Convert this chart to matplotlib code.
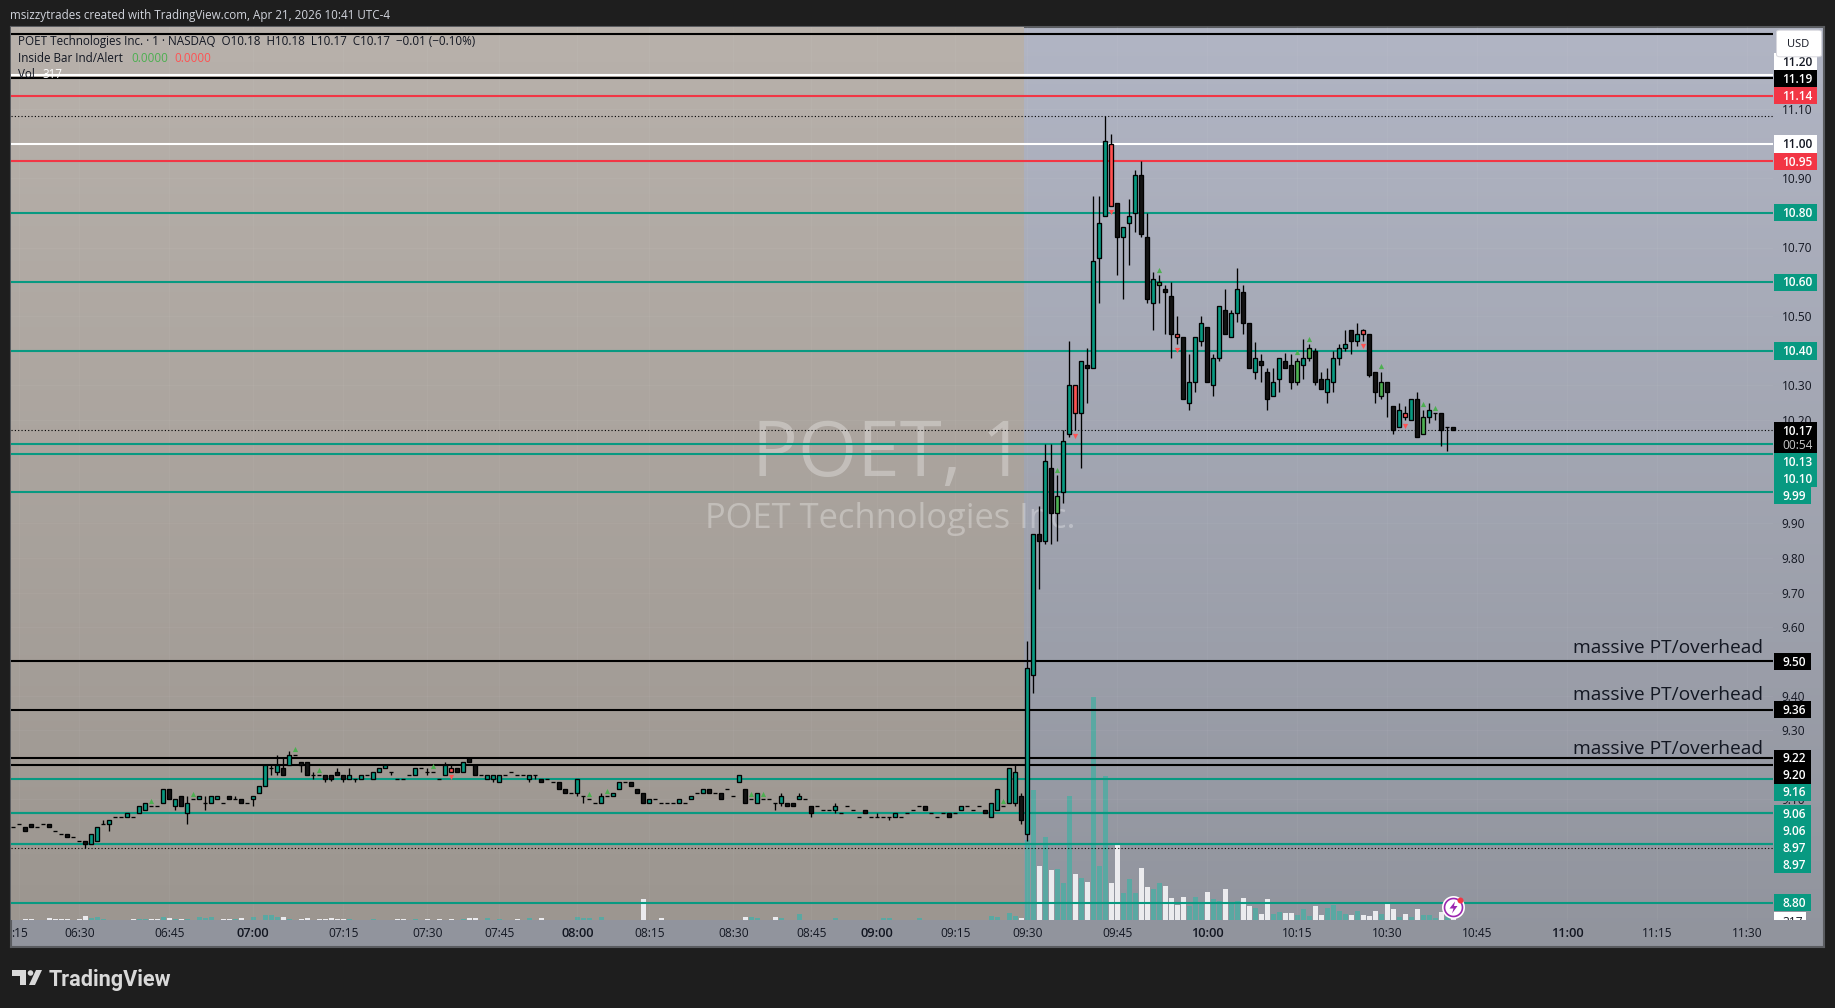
import numpy as np
import matplotlib
matplotlib.use("Agg")
import matplotlib.pyplot as plt
from matplotlib.patches import Rectangle, Polygon, FancyBboxPatch
from matplotlib.transforms import Bbox

plt.rcParams.update({'font.family': ['Open Sans', 'DejaVu Sans']})

# one minute bars, oldest first
opens = [
  9.02,9.03,9.02,9.03,9.02,9.03,9.03,9.01,9.00,9.00,
  8.99,8.98,8.98,8.97,8.98,9.03,9.03,9.05,9.05,9.05,
  9.05,9.06,9.07,9.08,9.08,9.09,9.13,9.08,9.11,9.06,
  9.10,9.10,9.09,9.09,9.10,9.09,9.11,9.10,9.10,9.09,
  9.10,9.12,9.14,9.19,9.18,9.19,9.20,9.23,9.21,9.21,
  9.17,9.17,9.17,9.17,9.18,9.17,9.16,9.16,9.16,9.17,
  9.16,9.18,9.19,9.18,9.16,9.16,9.17,9.17,9.19,9.18,
  9.18,9.16,9.17,9.19,9.19,9.18,9.22,9.20,9.17,9.16,
  9.16,9.15,9.17,9.18,9.17,9.17,9.16,9.17,9.16,9.16,
  9.15,9.15,9.13,9.12,9.12,9.11,9.10,9.09,9.09,9.11,
  9.11,9.13,9.15,9.15,9.13,9.12,9.09,9.10,9.09,9.09,
  9.09,9.09,9.09,9.10,9.12,9.12,9.13,9.12,9.12,9.13,
  9.11,9.15,9.13,9.10,9.09,9.10,9.10,9.09,9.09,9.09,
  9.09,9.10,9.10,9.08,9.08,9.07,9.07,9.07,9.06,9.08,
  9.07,9.05,9.07,9.05,9.05,9.05,9.05,9.05,9.05,9.06,
  9.07,9.08,9.08,9.06,9.05,9.06,9.06,9.06,9.07,9.08,
  9.07,9.08,9.07,9.05,9.07,9.08,9.09,9.09,9.11,
  9.00,9.46,9.87,9.85,10.06,9.93,9.99,10.16,10.30,10.22,
  10.36,10.35,10.67,10.79,11.00,10.83,10.73,10.77,10.80,10.91,
  10.73,10.54,10.59,10.58,10.56,10.45,10.44,10.25,10.31,10.43,
  10.47,10.30,10.38,10.52,10.44,10.51,10.57,10.48,10.34,10.37,
  10.34,10.27,10.32,10.37,10.36,10.31,10.36,10.38,10.40,10.32,
  10.28,10.31,10.38,10.41,10.46,10.43,10.46,10.45,10.34,10.27,
  10.31,10.24,10.18,10.22,10.20,10.26,10.16,10.21,10.22,10.22,10.18,10.18]
closes = [
  9.02,9.03,9.01,9.02,9.02,9.03,9.02,9.01,9.00,8.99,
  8.99,8.98,8.97,9.00,9.02,9.03,9.04,9.05,9.05,9.06,
  9.05,9.08,9.09,9.08,9.08,9.13,9.10,9.10,9.08,9.09,
  9.10,9.11,9.09,9.11,9.11,9.09,9.10,9.10,9.09,9.09,
  9.11,9.14,9.20,9.19,9.20,9.17,9.23,9.23,9.20,9.17,
  9.17,9.17,9.16,9.16,9.17,9.16,9.17,9.16,9.17,9.17,
  9.18,9.19,9.20,9.18,9.16,9.16,9.17,9.19,9.19,9.18,
  9.18,9.16,9.20,9.18,9.18,9.21,9.21,9.17,9.17,9.17,
  9.17,9.17,9.17,9.18,9.17,9.17,9.17,9.17,9.15,9.16,
  9.15,9.13,9.12,9.12,9.16,9.11,9.10,9.09,9.11,9.11,
  9.12,9.15,9.15,9.14,9.12,9.09,9.10,9.10,9.09,9.09,
  9.09,9.10,9.09,9.11,9.12,9.13,9.12,9.12,9.10,9.13,
  9.11,9.17,9.09,9.10,9.12,9.10,9.10,9.09,9.11,9.08,
  9.08,9.11,9.10,9.06,9.08,9.07,9.07,9.08,9.06,9.08,
  9.07,9.05,9.06,9.05,9.05,9.05,9.05,9.06,9.05,9.06,
  9.07,9.08,9.07,9.06,9.05,9.06,9.05,9.06,9.08,9.08,
  9.07,9.08,9.06,9.09,9.13,9.08,9.19,9.18,9.04,
  9.48,9.87,9.85,10.08,9.93,9.98,10.14,10.30,10.22,10.37,
  10.35,10.66,10.77,11.01,10.82,10.73,10.76,10.79,10.91,10.74,
  10.55,10.61,10.60,10.57,10.45,10.44,10.26,10.31,10.44,10.48,
  10.31,10.38,10.53,10.45,10.51,10.58,10.48,10.35,10.38,10.36,
  10.26,10.31,10.38,10.35,10.31,10.37,10.38,10.41,10.31,10.29,
  10.32,10.38,10.41,10.42,10.43,10.45,10.45,10.33,10.28,10.31,
  10.28,10.17,10.23,10.21,10.26,10.15,10.21,10.23,10.22,10.17,10.18,10.17]
highs = [
  9.02,9.03,9.02,9.03,9.02,9.03,9.03,9.01,9.00,9.00,
  8.99,8.98,8.98,9.00,9.02,9.04,9.04,9.05,9.05,9.06,
  9.05,9.08,9.09,9.08,9.08,9.13,9.13,9.10,9.11,9.11,
  9.10,9.11,9.11,9.11,9.11,9.09,9.11,9.11,9.10,9.09,
  9.11,9.14,9.20,9.20,9.23,9.22,9.24,9.23,9.21,9.21,
  9.18,9.17,9.17,9.17,9.19,9.17,9.19,9.16,9.17,9.17,
  9.18,9.19,9.20,9.18,9.16,9.16,9.17,9.19,9.19,9.19,
  9.18,9.16,9.21,9.20,9.19,9.21,9.22,9.20,9.17,9.17,
  9.17,9.17,9.17,9.18,9.17,9.17,9.17,9.17,9.16,9.16,
  9.15,9.15,9.13,9.12,9.16,9.11,9.10,9.09,9.12,9.11,
  9.12,9.15,9.15,9.15,9.13,9.12,9.10,9.10,9.09,9.09,
  9.09,9.10,9.09,9.11,9.12,9.13,9.13,9.12,9.12,9.13,
  9.11,9.17,9.13,9.10,9.12,9.10,9.10,9.09,9.12,9.09,
  9.09,9.12,9.10,9.08,9.08,9.07,9.07,9.09,9.06,9.08,
  9.07,9.05,9.07,9.05,9.06,9.05,9.05,9.06,9.05,9.06,
  9.07,9.08,9.08,9.06,9.05,9.06,9.06,9.06,9.08,9.08,
  9.07,9.08,9.07,9.09,9.13,9.08,9.19,9.20,9.12,
  9.56,9.87,9.95,10.13,10.13,10.04,10.17,10.43,10.30,10.37,
  10.41,10.85,10.85,11.08,11.03,10.83,10.76,10.84,10.925,10.95,
  10.80,10.63,10.62,10.59,10.60,10.50,10.44,10.39,10.44,10.50,
  10.47,10.39,10.53,10.58,10.52,10.64,10.59,10.48,10.425,10.39,
  10.35,10.35,10.38,10.395,10.39,10.38,10.435,10.42,10.41,10.34,
  10.35,10.40,10.42,10.46,10.46,10.48,10.465,10.45,10.34,10.34,
  10.31,10.24,10.25,10.24,10.26,10.28,10.23,10.25,10.22,10.22,10.18,10.18]
lows = [
  9.02,9.03,9.01,9.02,9.02,9.03,9.02,9.01,9.00,8.99,
  8.99,8.98,8.96,8.97,8.98,9.03,9.01,9.05,9.05,9.05,
  9.05,9.06,9.07,9.08,9.08,9.09,9.10,9.07,9.08,9.03,
  9.10,9.10,9.07,9.09,9.10,9.09,9.10,9.10,9.09,9.09,
  9.08,9.12,9.14,9.17,9.17,9.17,9.20,9.23,9.18,9.17,
  9.16,9.17,9.15,9.155,9.17,9.15,9.16,9.15,9.16,9.17,
  9.16,9.18,9.19,9.17,9.16,9.16,9.17,9.17,9.19,9.17,
  9.18,9.16,9.17,9.18,9.18,9.18,9.21,9.17,9.17,9.16,
  9.15,9.15,9.17,9.18,9.17,9.17,9.15,9.16,9.15,9.16,
  9.15,9.13,9.12,9.12,9.11,9.09,9.10,9.09,9.09,9.11,
  9.11,9.13,9.15,9.14,9.12,9.09,9.09,9.10,9.09,9.09,
  9.09,9.09,9.09,9.10,9.12,9.12,9.12,9.12,9.10,9.13,
  9.11,9.15,9.09,9.10,9.09,9.10,9.10,9.07,9.08,9.08,
  9.08,9.10,9.10,9.05,9.08,9.07,9.07,9.06,9.06,9.08,
  9.07,9.05,9.06,9.05,9.05,9.05,9.04,9.05,9.05,9.06,
  9.07,9.08,9.07,9.06,9.05,9.06,9.05,9.06,9.07,9.08,
  9.07,9.08,9.06,9.05,9.07,9.08,9.09,9.08,9.03,
  8.98,9.41,9.71,9.84,9.84,9.85,9.96,10.15,10.17,10.06,
  10.25,10.35,10.54,10.79,10.82,10.62,10.55,10.65,10.745,10.73,
  10.54,10.46,10.54,10.45,10.38,10.42,10.26,10.23,10.28,10.415,
  10.31,10.27,10.37,10.45,10.44,10.485,10.45,10.35,10.32,10.31,
  10.23,10.27,10.28,10.35,10.29,10.30,10.32,10.37,10.30,10.29,
  10.25,10.28,10.36,10.40,10.39,10.415,10.43,10.325,10.25,10.26,
  10.21,10.16,10.18,10.20,10.20,10.15,10.16,10.19,10.20,10.125,10.11,10.17]
volumes = [
  70,70,210,210,70,70,350,140,140,140,
  70,140,840,350,560,140,70,70,70,70,
  140,280,280,140,140,560,420,280,140,280,
  70,560,350,560,70,140,140,280,350,70,
  560,70,980,980,560,560,280,70,140,350,
  70,140,140,350,140,140,280,70,70,70,
  280,70,70,70,140,140,70,280,70,140,
  70,140,70,140,70,280,350,490,70,350,
  70,280,70,70,140,70,350,70,420,70,
  70,70,70,70,560,350,350,70,560,70,
  70,70,70,70,70,4340,70,70,350,70,
  70,70,70,70,70,70,70,70,70,70,
  70,70,560,560,350,70,70,560,350,70,
  70,1190,70,70,70,70,70,350,70,70,
  70,70,70,70,70,350,350,70,70,70,
  70,350,70,70,70,70,70,70,70,70,
  70,70,70,770,560,70,1470,770,350,
  16800,27300,11340,17430,10500,10710,7770,26040,9660,8820,
  7980,46830,11340,30240,7770,16170,5670,8610,5670,10920,
  6930,6510,7770,7140,4620,3150,4830,2940,4830,3360,
  5880,4410,3990,6510,3570,3990,4620,2940,2520,1260,
  4410,1260,1680,1470,1470,1050,2310,840,2940,1050,
  2520,3150,1890,1260,1050,1890,1050,840,1890,1260,
  3570,2310,630,1260,630,2310,1050,1050,420,1680,700,317]
# flat bars whose volume is drawn white
flat_white = [7,8,11,20,23,24,35,51,64,65,69,71,84,89,93,102,108,109,110,112,117,120,
              127,134,135,136,139,140,149,150,153,154,155,159,160,161]

inside_up = [23,30,47,51,70,96,99,123,125,165,174,191,214,216,228,235,237]
inside_down = [73,177,183,194,225,232]

tick_bars = [1,11,26,40,55,69,81,94,106,120,133,144,157,169,184,199,214,229,244,259,274,289]
tick_text = [':15','06:30','06:45','07:00','07:15','07:30','07:45','08:00','08:15','08:30','08:45',
             '09:00','09:15','09:30','09:45','10:00','10:15','10:30','10:45','11:00','11:15','11:30']
bold_ticks = ['07:00','08:00','09:00','10:00','11:00']

price_ticks = [11.20,11.10,10.90,10.70,10.50,10.30,10.20,9.90,9.80,9.70,9.60,9.40,9.30,9.10]

top_level = 11.32
levels = [11.19,11.14,11.00,10.95,10.80,10.60,10.40,10.13,10.10,9.99,9.50,9.36,9.22,9.20,9.16,9.06,9.06,8.97,8.97,8.80]
level_kinds = ['black','red','white','red','green','green','green','green','green','green',
               'black','black','black','black','green','green','green','green','green','green']
dotted_levels = [11.08,8.96]
note_levels = [9.50,9.36,9.22]
last_price = 10.17

W, H = 1835, 1008
BG = '#1e1e1e'
BLACK = '#000000'
RED = '#f23645'
GREEN = '#089981'
INK = '#131722'
line_colors = {'black': BLACK, 'red': RED, 'white': '#ffffff', 'green': GREEN}

def fx(x):
  return x / W

def fy(y):
  return 1 - y / H

def axes_rect(x0, y0, x1, y1):
  return [fx(x0), fy(y1), (x1 - x0) / W, (y1 - y0) / H]

def gradient(top, bottom, n=256):
  t = np.linspace(0, 1, n)[:, None, None]
  return (np.array(top)[None, None, :] * (1 - t) + np.array(bottom)[None, None, :] * t) / 255.0

fig = plt.figure(figsize=(W / 100, H / 100), dpi=100, facecolor=BG)

# pane background
bg = fig.add_axes(axes_rect(11, 27, 1824, 947), zorder=0)
bg.imshow(gradient((177, 181, 196), (145, 148, 157)), aspect='auto', extent=[0, 1, 0, 1])
bg.set_xticks([])
bg.set_yticks([])
for s in bg.spines.values():
  s.set_color('#5a5c60')
  s.set_linewidth(1.5)

x = np.arange(len(opens))
o = np.array(opens)
c = np.array(closes)
hi = np.array(highs)
lo = np.array(lows)
xlim = ((11 - 13.3) / 6, (1773 - 13.3) / 6)
ylim = (11 - (920 - 144) / 345.0, 11 + (144 - 27) / 345.0)
premarket_end = 168.45

# volume sits under everything else
vax = fig.add_axes(axes_rect(11, 27, 1773, 920), zorder=1)
vax.patch.set_alpha(0)
vax.axis('off')
vax.imshow(gradient((184, 177, 171), (156, 150, 144)), aspect='auto',
           extent=[xlim[0], premarket_end, 0, 187500], zorder=0)
vax.set_xlim(xlim)
vax.set_ylim(0, 187500)
vol_colors = []
for i in x:
  white = c[i] < o[i] or i in flat_white
  vol_colors.append('#ebebee' if white else '#5aa8a2')
vax.bar(x, volumes, width=0.82, color=vol_colors, linewidth=0, zorder=2)

ax = fig.add_axes(axes_rect(11, 27, 1773, 920), zorder=2)
ax.patch.set_alpha(0)
ax.set_xlim(xlim)
ax.set_ylim(ylim)
for s in ax.spines.values():
  s.set_visible(False)
ax.grid(True, color='#ffffff', alpha=0.04, linewidth=1)
ax.set_axisbelow(True)

ax.yaxis.tick_right()
ax.set_yticks(price_ticks)
ax.set_yticklabels(['%.2f' % p for p in price_ticks])
ax.tick_params(axis='y', length=0, pad=6.3, labelsize=8.6, labelcolor=INK)
ax.set_xticks(tick_bars)
ax.set_xticklabels(tick_text)
ax.tick_params(axis='x', length=0, pad=5, labelsize=8.6, labelcolor=INK)
for t in ax.get_xticklabels():
  if t.get_text() in bold_ticks:
    t.set_fontweight('semibold')
    t.set_fontsize(9.2)

# watermark
ax.text(fx(889), fy(476), 'POET, 1', transform=fig.transFigure, ha='center', va='baseline',
        fontsize=55, color='#ffffff', alpha=0.30, zorder=0.5)
ax.text(fx(890), fy(528), 'POET Technologies Inc.', transform=fig.transFigure, ha='center', va='baseline',
        fontsize=24.8, color='#ffffff', alpha=0.30, zorder=0.5)

# level lines
ax.axhline(top_level, color=BLACK, linewidth=1.5, zorder=1)
ax.axhline(11.20, color='#ffffff', linewidth=1.5, zorder=1)
for p, k in zip(levels, level_kinds):
  ax.axhline(p, color=line_colors[k], linewidth=1.5, zorder=1)
for p in dotted_levels + [last_price]:
  ax.axhline(p, color=BLACK, linewidth=0.8, linestyle=(0, (1, 2)), zorder=1)

# candles
body_colors = []
for i in x:
  if i in inside_up:
    body_colors.append('#4caf50')
  elif i in inside_down:
    body_colors.append('#ff5252')
  elif c[i] >= o[i]:
    body_colors.append(GREEN)
  else:
    body_colors.append('#131313')
ax.vlines(x, lo, hi, color=BLACK, linewidth=0.95, zorder=3)
ax.bar(x, np.abs(c - o), bottom=np.minimum(o, c), width=0.62, color=body_colors,
       edgecolor=BLACK, linewidth=0.95, zorder=4)

mark_gap = 0.016
ax.scatter(inside_up, hi[inside_up] + mark_gap, marker='^', s=14, color='#4caf50', linewidths=0, zorder=5)
ax.scatter(inside_down, lo[inside_down] - mark_gap, marker='v', s=14, color='#ff5252', linewidths=0, zorder=5)

note_gap = {9.50: 6.2, 9.36: 7.0, 9.22: 3}
for p in note_levels:
  ax.annotate('massive PT/overhead', xy=(1, p), xycoords=('axes fraction', 'data'),
              xytext=(-7.4, note_gap[p]), textcoords='offset points', ha='right', va='baseline',
              fontsize=13.8, color=INK, zorder=6)

# legend block, top left
fig.text(fx(10), fy(15), 'msizzytrades created with TradingView.com, Apr 21, 2026 10:41 UTC-4',
         color='#d1d4dc', fontsize=8.4, va='center')
fig.text(fx(18), fy(42), 'POET Technologies Inc. \u00b7 1 \u00b7 NASDAQ  O10.18  H10.18  L10.17  C10.17  \u22120.01 (\u22120.10%)',
         color=INK, fontsize=8.35, va='center', zorder=8)
fig.text(fx(18), fy(59), 'Inside Bar Ind/Alert', color=INK, fontsize=8.35, va='center', zorder=8)
fig.text(fx(131), fy(59), '0.0000', color='#4caf50', fontsize=8.35, va='center', zorder=8)
fig.text(fx(174), fy(59), '0.0000', color='#ff5252', fontsize=8.35, va='center', zorder=8)
fig.text(fx(18), fy(75), 'Vol', color=INK, fontsize=8.35, va='center', zorder=8)
fig.text(fx(42), fy(75), '317', color='#ffffff', fontsize=8.35, va='center', zorder=8)

# price axis labels, stacked so they do not overlap
def price_to_y(p):
  return 144 + (11 - p) * 345.0

def axis_label(text, yc, fill, ink='#ffffff', height=17, z=7):
  width = 43 if text.startswith('1') and len(text) > 4 else 37
  fig.add_artist(Rectangle((fx(1774), fy(yc + height / 2)), width / W, height / H, transform=fig.transFigure,
                           facecolor=fill, edgecolor='none', zorder=z))
  fig.text(fx(1782), fy(yc + 0.8), text, color=ink, fontsize=8.6, fontweight='semibold', ha='left', va='center',
           zorder=z + 0.1)

axis_label('11.20', 62, '#ffffff', INK, z=6)
prev_bottom = 0
for p, k in zip(levels, level_kinds):
  target = price_to_y(p)
  if 10.17 > p > 10.0 and prev_bottom < price_to_y(last_price) + 23:
    prev_bottom = price_to_y(last_price) + 23
  yc = max(target, prev_bottom + 8.5)
  prev_bottom = yc + 8.5
  axis_label('%.2f' % p, yc, line_colors[k], INK if k == 'white' else '#ffffff')

yc = price_to_y(last_price)
fig.add_artist(Rectangle((fx(1774), fy(yc + 23)), 43 / W, 31 / H, transform=fig.transFigure,
                         facecolor=BLACK, edgecolor='none', zorder=7))
fig.text(fx(1782), fy(yc + 0.8), '%.2f' % last_price, color='#ffffff', fontsize=8.6, fontweight='semibold',
         va='center', zorder=7.1)
fig.text(fx(1782), fy(yc + 15.5), '00:54', color='#c8c8c8', fontsize=8.6, va='center', zorder=7.1)

# volume tag, cut off by the time axis
fig.add_artist(Rectangle((fx(1774), fy(920)), 32 / W, 8 / H, transform=fig.transFigure,
                         facecolor='#ffffff', edgecolor='none', zorder=7))
vol_tag = fig.text(fx(1782), fy(922), '317', color=INK, fontsize=8.6, va='center', zorder=7.1)
vol_tag.set_clip_box(Bbox([[1774, H - 920], [1806, H - 912]]))
vol_tag.set_clip_on(True)

# USD button
fig.add_artist(FancyBboxPatch((fx(1778), fy(56)), 42 / W, 25 / H, transform=fig.transFigure,
                              boxstyle='round,pad=0.0008,rounding_size=0.002', facecolor='#ffffff',
                              edgecolor='#d8d8de', linewidth=0.7, zorder=8))
fig.text(fx(1798), fy(44.5), 'USD', color=INK, fontsize=8, ha='center', va='center', zorder=8.1)

# alert badge
def to_fig(pts):
  return [(fx(a), fy(b)) for a, b in pts]

badge_x, badge_y = 1453.5, 907.5
fig.add_artist(Polygon(to_fig([(badge_x + 11.5 * np.cos(t), badge_y + 11.5 * np.sin(t)) for t in np.linspace(0, 2 * np.pi, 40)]),
                       transform=fig.transFigure, facecolor='#ffffff', edgecolor='none', zorder=6))
fig.add_artist(Polygon(to_fig([(badge_x + 9 * np.cos(t), badge_y + 9 * np.sin(t)) for t in np.linspace(0, 2 * np.pi, 40)]),
                       transform=fig.transFigure, facecolor='#ffffff', edgecolor='#9c27b0', linewidth=1.2, zorder=6.1))
fig.add_artist(Polygon(to_fig([(badge_x + 1.5, badge_y - 6), (badge_x - 4, badge_y + 1), (badge_x, badge_y + 1),
                               (badge_x - 1.5, badge_y + 6), (badge_x + 4, badge_y - 1.5), (badge_x + 0.5, badge_y - 1.5)]),
                       transform=fig.transFigure, facecolor='#9c27b0', edgecolor='none', zorder=6.2))
fig.add_artist(Polygon(to_fig([(badge_x + 7 + 3 * np.cos(t), badge_y - 7 + 3 * np.sin(t)) for t in np.linspace(0, 2 * np.pi, 20)]),
                       transform=fig.transFigure, facecolor=RED, edgecolor='none', zorder=6.3))

# TradingView mark
logo = '#d9d9d9'
fig.add_artist(Polygon(to_fig([(12, 970), (26, 970), (26, 985), (20, 985), (20, 976), (12, 976)]),
                       transform=fig.transFigure, facecolor=logo, edgecolor='none', zorder=3))
fig.add_artist(Polygon(to_fig([(36, 970), (42, 970), (35, 985), (29, 985)]),
                       transform=fig.transFigure, facecolor=logo, edgecolor='none', zorder=3))
fig.add_artist(Polygon(to_fig([(30.5 + 2.8 * np.cos(t), 973 + 2.8 * np.sin(t)) for t in np.linspace(0, 2 * np.pi, 20)]),
                       transform=fig.transFigure, facecolor=logo, edgecolor='none', zorder=3))
fig.text(fx(49), fy(980), 'TradingView', color=logo, fontsize=15.6, fontweight='bold', family='Roboto', va='center')

fig.savefig('out.png', dpi=100, facecolor=BG)
